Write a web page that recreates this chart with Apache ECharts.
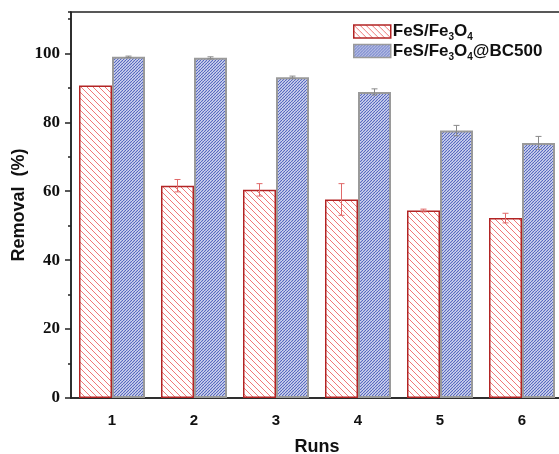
<!DOCTYPE html>
<html>
<head>
<meta charset="utf-8">
<script src="https://cdn.jsdelivr.net/npm/echarts@6/dist/echarts.min.js"></script>
<style>
  * { margin: 0; padding: 0; }
  body { background: #fff; }
</style>
</head>
<body>
<div id="main" style="width: 559px;height: 454px;"></div>
<script>
  var runs = ['1', '2', '3', '4', '5', '6'];
  var seriesNames = ['FeS/Fe3O4', 'FeS/Fe3O4@BC500'];
  var removalFeS = [90.7, 61.6, 60.4, 57.6, 54.4, 52.2];
  var errFeS = [0, 1.8, 1.8, 4.6, 0.4, 1.4];
  var removalBC = [99.0, 98.7, 93.1, 88.8, 77.6, 74.0];
  var errBC = [0.2, 0.3, 0.3, 0.9, 1.5, 1.9];
  var yTicks = [0, 20, 40, 60, 80, 100];

  var BAR_W = 33;

  // hatch pattern made on a small canvas
  function hatch(size, color, bg, dir, lw) {
    var c = document.createElement('canvas');
    c.width = size; c.height = size;
    var ctx = c.getContext('2d');
    ctx.fillStyle = bg;
    ctx.fillRect(0, 0, size, size);
    ctx.strokeStyle = color;
    ctx.lineWidth = lw;
    ctx.beginPath();
    for (var k = -1; k <= 1; k++) {
      if (dir === 'back') {
        ctx.moveTo(k * size, 0); ctx.lineTo(k * size + size, size);
      } else {
        ctx.moveTo(k * size + size, 0); ctx.lineTo(k * size, size);
      }
    }
    ctx.stroke();
    return { image: c, repeat: 'repeat' };
  }

  var redFill = hatch(6, '#f07878', '#ffffff', 'back', 1);
  var blueFill = hatch(3, '#5466bf', '#e4e7f6', 'fwd', 1.2);

  function errSeries(name, vals, errs, offset, color) {
    return {
      name: name + '_err',
      type: 'custom',
      z: 5,
      silent: true,
      data: vals.map(function (v, i) { return [i, v, errs[i]]; }),
      renderItem: function (params, api) {
        var i = api.value(0), v = api.value(1), e = api.value(2);
        if (!e) return;
        var hi = api.coord([i, v + e]);
        var lo = api.coord([i, v - e]);
        var x = hi[0] + offset;
        var cw = 3;
        var st = { stroke: color, lineWidth: 1 };
        return {
          type: 'group',
          children: [
            { type: 'line', shape: { x1: x, y1: hi[1], x2: x, y2: lo[1] }, style: st },
            { type: 'line', shape: { x1: x - cw, y1: hi[1], x2: x + cw, y2: hi[1] }, style: st },
            { type: 'line', shape: { x1: x - cw, y1: lo[1], x2: x + cw, y2: lo[1] }, style: st }
          ]
        };
      }
    };
  }

  var chart = echarts.init(document.getElementById('main'));
  chart.setOption({
    animation: false,
    grid: {
      left: 71, top: 12, bottom: 56, right: -4,
      containLabel: false, outerBoundsMode: 'none',
      show: true, borderColor: '#222', borderWidth: 1.5
    },
    legend: {
      orient: 'vertical',
      left: 353, top: 23,
      padding: 0,
      icon: 'rect',
      itemWidth: 37, itemHeight: 13, itemGap: 0,
      data: seriesNames,
      itemStyle: { borderWidth: 1.5 },
      formatter: function (n) { return n.replace('Fe3O4', 'Fe{s|3}O{s|4}'); },
      textStyle: {
        fontFamily: 'Liberation Sans', fontWeight: 'bold', fontSize: 17, color: '#111',
        padding: [0, 0, 0, -3],
        rich: {
          s: { fontFamily: 'Liberation Sans', fontWeight: 'bold', fontSize: 10, color: '#111',
               verticalAlign: 'bottom', padding: [12, 0, 0, 0] }
        }
      }
    },
    xAxis: [{
      type: 'category',
      data: runs,
      name: 'Runs',
      nameLocation: 'middle',
      nameGap: 40,
      nameTextStyle: { fontFamily: 'Liberation Sans', fontWeight: 'bold', fontSize: 18, color: '#111' },
      axisLine: { lineStyle: { color: '#222', width: 1.5 } },
      axisTick: { alignWithLabel: true, length: 6, lineStyle: { color: '#222', width: 1.5 } },
      axisLabel: { margin: 15, fontFamily: 'Liberation Sans', fontWeight: 'bold', fontSize: 15, color: '#111' }
    }, {
      type: 'category',
      data: runs,
      position: 'bottom',
      axisLine: { show: false },
      axisTick: { length: 4, lineStyle: { color: '#222', width: 1.5 } },
      axisLabel: { show: false }
    }],
    yAxis: [{
      type: 'value',
      min: 0, max: 112, interval: 20,
      name: 'Removal  (%)',
      nameLocation: 'middle',
      nameGap: 43,
      nameMoveOverlap: false,
      nameTextStyle: { fontFamily: 'Liberation Sans', fontWeight: 'bold', fontSize: 18, color: '#111' },
      splitLine: { show: false },
      axisLine: { show: true, lineStyle: { color: '#222', width: 1.5 } },
      axisTick: { show: true, length: 6, lineStyle: { color: '#222', width: 1.5 } },
      axisLabel: {
        margin: 11, showMaxLabel: false,
        fontFamily: 'Liberation Serif', fontWeight: 'bold', fontSize: 17, color: '#111',
        formatter: function (v) { return yTicks.indexOf(v) >= 0 ? v : ''; }
      }
    }, {
      type: 'value',
      min: 0, max: 112, interval: 10,
      position: 'left',
      splitLine: { show: false },
      axisLine: { show: false },
      axisTick: { show: true, length: 3, lineStyle: { color: '#222', width: 1.5 } },
      axisLabel: { show: false }
    }],
    series: [{
      name: seriesNames[0],
      type: 'bar',
      barWidth: BAR_W,
      barGap: 0,
      data: removalFeS,
      itemStyle: { color: redFill, borderColor: '#b22424', borderWidth: 1.5 }
    }, {
      name: seriesNames[1],
      type: 'bar',
      barWidth: BAR_W,
      barGap: 0,
      data: removalBC,
      itemStyle: { color: blueFill, borderColor: '#9a9a9a', borderWidth: 2 }
    },
    errSeries(seriesNames[0], removalFeS, errFeS, -BAR_W / 2, '#e06a6a'),
    errSeries(seriesNames[1], removalBC, errBC, BAR_W / 2, '#8a8a8a')
    ]
  });
</script>
</body>
</html>
